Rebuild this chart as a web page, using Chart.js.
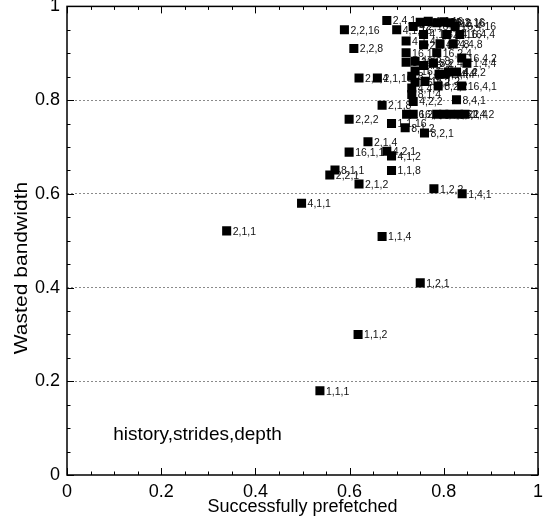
<!DOCTYPE html>
<html><head><meta charset="utf-8">
<script src="https://cdn.jsdelivr.net/npm/chart.js@4"></script>
<style>html,body{margin:0;padding:0;background:#fff;} canvas{display:block;}</style>
</head><body>
<canvas id="c" width="546" height="525"></canvas>
<script>
// history,strides,depth configurations
const pointLabels = [
 "1,1,1","1,1,2","1,2,1","1,1,4","2,1,1","4,1,1","1,4,1","1,2,2","2,1,2","2,2,1",
 "8,1,1","1,1,8","4,1,2","4,2,1","16,1,1","2,1,4","8,2,1","8,1,2","1,1,16","2,2,2",
 "2,4,1","16,1,16","4,4,16","8,4,16","16,2,16","8,2,16","2,2,16","4,1,16","4,2,16","16,4,16",
 "16,4,4","4,1,8","2,4,16","2,4,8","4,2,8","4,4,8","2,2,8","4,1,4","16,1,8","8,2,8",
 "16,2,8","16,2,4","8,2,4","16,4,2","1,4,4","4,2,4","16,1,4","8,4,2","4,4,2","2,2,4",
 "2,1,16","8,1,8","8,4,4","2,4,4","16,2,2","16,1,2","4,4,4","8,2,2","16,4,1","8,1,4",
 "8,4,1","4,2,2","2,1,8","16,2,1","16,4,8","8,1,16","2,4,2","4,4,1","1,2,4","1,4,2"
];
// Successfully prefetched (x)
const prefetched = [
 0.537,0.618,0.750,0.669,0.339,0.498,0.839,0.779,0.620,0.558,
 0.569,0.689,0.689,0.679,0.599,0.639,0.759,0.718,0.689,0.599,
 0.679,0.750,0.767,0.785,0.800,0.814,0.589,0.700,0.735,0.824,
 0.834,0.757,0.806,0.757,0.792,0.820,0.609,0.720,0.720,0.720,
 0.739,0.785,0.778,0.838,0.849,0.757,0.739,0.810,0.827,0.620,
 0.659,0.732,0.790,0.803,0.739,0.760,0.732,0.788,0.838,0.732,
 0.827,0.735,0.669,0.721,0.735,0.785,0.800,0.813,0.831,0.845
];
// Wasted bandwidth (y)
const wasted = [
 0.180,0.300,0.410,0.509,0.521,0.580,0.600,0.611,0.621,0.640,
 0.651,0.650,0.681,0.691,0.689,0.711,0.730,0.741,0.750,0.759,
 0.970,0.966,0.968,0.965,0.967,0.965,0.950,0.950,0.957,0.957,
 0.940,0.940,0.940,0.918,0.920,0.920,0.910,0.926,0.901,0.881,
 0.883,0.901,0.879,0.890,0.879,0.874,0.862,0.860,0.860,0.847,
 0.847,0.851,0.855,0.855,0.838,0.840,0.826,0.830,0.830,0.812,
 0.801,0.797,0.789,0.770,0.770,0.770,0.770,0.770,0.770,0.770
];
const axisTicks = [0, 0.2, 0.4, 0.6, 0.8, 1];
const gridLevels = [0.2, 0.4, 0.6, 0.8];
const noteText = "history,strides,depth";
const noteAt = {x: 0.098, y: 0.085};
const yTitleText = "Wasted bandwidth";

const FONT = "'Liberation Sans', Arial, sans-serif";

const labelPlugin = {
  id: 'pointLabels',
  beforeDatasetsDraw(chart) {
    const ctx = chart.ctx, xs = chart.scales.x, ys = chart.scales.y;
    ctx.save();
    ctx.font = "10.5px " + FONT;
    ctx.fillStyle = "#111";
    ctx.textAlign = "left";
    ctx.textBaseline = "middle";
    for (let i = 0; i < pointLabels.length; i++) {
      const px = xs.getPixelForValue(prefetched[i]);
      const py = ys.getPixelForValue(wasted[i]);
      ctx.fillText(pointLabels[i], px + 6, py + 1);
    }
    ctx.font = "19px " + FONT;
    ctx.fillStyle = "#000";
    ctx.fillText(noteText, xs.getPixelForValue(noteAt.x), ys.getPixelForValue(noteAt.y));
    ctx.restore();
  },
  afterDraw(chart) {
    const ctx = chart.ctx, xs = chart.scales.x, ys = chart.scales.y;
    const a = chart.chartArea;
    ctx.save();
    ctx.strokeStyle = "#000";
    ctx.lineWidth = 1;
    for (let k = 0; k <= 20; k++) {
      const v = k * 0.05;
      const major = (k % 4 === 0);
      const len = major ? 7 : 3.5;
      const px = Math.round(xs.getPixelForValue(v)) + 0.5;
      const py = Math.round(ys.getPixelForValue(v)) + 0.5;
      ctx.beginPath();
      ctx.moveTo(px, a.bottom); ctx.lineTo(px, a.bottom - len);
      ctx.moveTo(px, a.top); ctx.lineTo(px, a.top + len);
      ctx.moveTo(a.left, py); ctx.lineTo(a.left + len, py);
      ctx.moveTo(a.right, py); ctx.lineTo(a.right - len, py);
      ctx.stroke();
    }
    ctx.lineWidth = 1.5;
    ctx.strokeRect(a.left, a.top, a.right - a.left, a.bottom - a.top);
    // y axis title (slightly stretched along its length like the reference)
    ctx.translate(22, 268);
    ctx.rotate(-Math.PI / 2);
    ctx.scale(1.17, 1);
    ctx.font = "18px " + FONT;
    ctx.fillStyle = "#000";
    ctx.textAlign = "center";
    ctx.textBaseline = "middle";
    ctx.fillText(yTitleText, 0, 0);
    ctx.restore();
  }
};

new Chart(document.getElementById('c'), {
  type: 'scatter',
  plugins: [labelPlugin],
  data: {
    datasets: [{
      data: prefetched.map((x, i) => ({x: x, y: wasted[i]})),
      pointStyle: 'rect',
      pointRadius: 6.4,
      pointHoverRadius: 6.4,
      backgroundColor: '#000',
      borderColor: '#000',
      borderWidth: 0
    }]
  },
  options: {
    responsive: false,
    animation: false,
    devicePixelRatio: 1,
    layout: {padding: {top: 4, right: 8, left: 0, bottom: 0}},
    plugins: {legend: {display: false}, tooltip: {enabled: false}},
    scales: {
      x: {
        type: 'linear', min: 0, max: 1,
        afterFit(s) { s.height = 50; s.paddingLeft = 0; s.paddingRight = 0; },
        afterBuildTicks(s) { s.ticks = axisTicks.map(v => ({value: v})); },
        ticks: {
          font: {size: 18, family: FONT}, color: '#000', padding: 6,
          maxRotation: 0,
          callback: v => String(Math.round(v * 10) / 10)
        },
        grid: {display: false, drawTicks: false},
        border: {display: false},
        title: {display: true, text: 'Successfully prefetched', color: '#000',
                font: {size: 18, family: FONT}, padding: {top: 0, bottom: 7}}
      },
      y: {
        type: 'linear', min: 0, max: 1,
        afterFit(s) { s.width = 67; s.paddingTop = 0; s.paddingBottom = 0; },
        afterBuildTicks(s) { s.ticks = axisTicks.map(v => ({value: v})); },
        ticks: {
          font: {size: 18, family: FONT}, color: '#000', padding: 7,
          callback: v => String(Math.round(v * 10) / 10)
        },
        grid: {
          drawTicks: false,
          color: ctx => gridLevels.some(g => Math.abs(g - ctx.tick.value) < 1e-6) ? '#8a8a8a' : 'rgba(0,0,0,0)',
          lineWidth: 1
        },
        border: {display: false, dash: [2, 2]},
        title: {display: false}
      }
    }
  }
});
</script>
</body></html>
